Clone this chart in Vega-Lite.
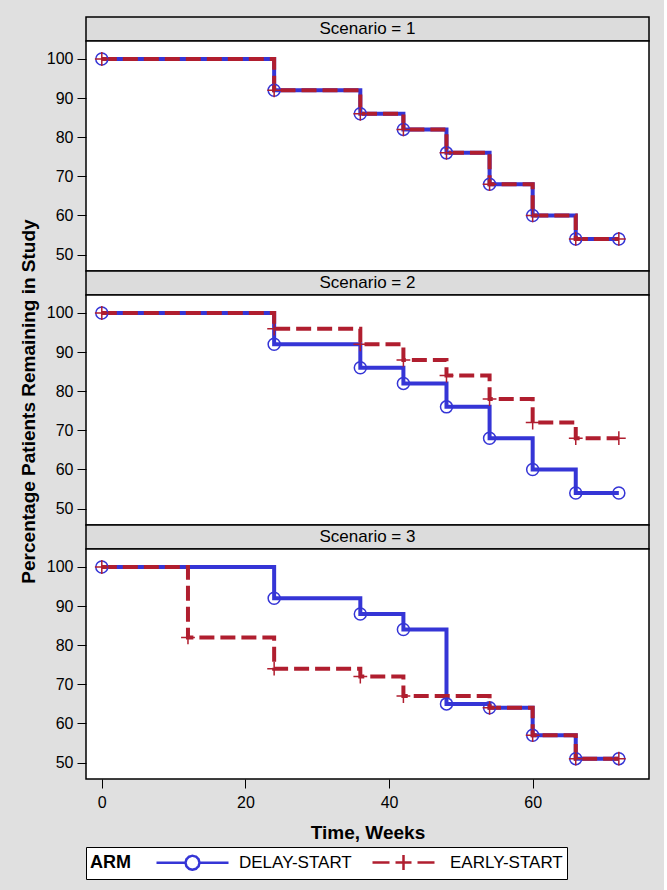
{
  "$schema": "https://vega.github.io/schema/vega-lite/v6.json",
  "background": "#e0e0e0",
  "padding": {"left": 18, "top": 16, "right": 14, "bottom": 10},
  "config": {
    "font": "Liberation Sans",
    "view": {"stroke": "#000", "strokeWidth": 1.5, "fill": "#ffffff"},
    "concat": {"spacing": 0},
    "axis": {
      "labelFontSize": 16, "labelColor": "#000", "tickColor": "#000", "domainColor": "#000",
      "grid": false, "titleFontSize": 19, "titleFontWeight": "bold", "titleColor": "#000",
      "tickSize": 9, "labelPadding": 4, "domain": false
    }
  },
  "datasets": {
    "km": [
      {"scenario": 1, "arm": "DELAY-START", "week": 0, "pct": 100},
      {"scenario": 1, "arm": "DELAY-START", "week": 24, "pct": 92},
      {"scenario": 1, "arm": "DELAY-START", "week": 36, "pct": 86},
      {"scenario": 1, "arm": "DELAY-START", "week": 42, "pct": 82},
      {"scenario": 1, "arm": "DELAY-START", "week": 48, "pct": 76},
      {"scenario": 1, "arm": "DELAY-START", "week": 54, "pct": 68},
      {"scenario": 1, "arm": "DELAY-START", "week": 60, "pct": 60},
      {"scenario": 1, "arm": "DELAY-START", "week": 66, "pct": 54},
      {"scenario": 1, "arm": "DELAY-START", "week": 72, "pct": 54},
      {"scenario": 1, "arm": "EARLY-START", "week": 0, "pct": 100},
      {"scenario": 1, "arm": "EARLY-START", "week": 24, "pct": 92},
      {"scenario": 1, "arm": "EARLY-START", "week": 36, "pct": 86},
      {"scenario": 1, "arm": "EARLY-START", "week": 42, "pct": 82},
      {"scenario": 1, "arm": "EARLY-START", "week": 48, "pct": 76},
      {"scenario": 1, "arm": "EARLY-START", "week": 54, "pct": 68},
      {"scenario": 1, "arm": "EARLY-START", "week": 60, "pct": 60},
      {"scenario": 1, "arm": "EARLY-START", "week": 66, "pct": 54},
      {"scenario": 1, "arm": "EARLY-START", "week": 72, "pct": 54},
      {"scenario": 2, "arm": "DELAY-START", "week": 0, "pct": 100},
      {"scenario": 2, "arm": "DELAY-START", "week": 24, "pct": 92},
      {"scenario": 2, "arm": "DELAY-START", "week": 36, "pct": 86},
      {"scenario": 2, "arm": "DELAY-START", "week": 42, "pct": 82},
      {"scenario": 2, "arm": "DELAY-START", "week": 48, "pct": 76},
      {"scenario": 2, "arm": "DELAY-START", "week": 54, "pct": 68},
      {"scenario": 2, "arm": "DELAY-START", "week": 60, "pct": 60},
      {"scenario": 2, "arm": "DELAY-START", "week": 66, "pct": 54},
      {"scenario": 2, "arm": "DELAY-START", "week": 72, "pct": 54},
      {"scenario": 2, "arm": "EARLY-START", "week": 0, "pct": 100},
      {"scenario": 2, "arm": "EARLY-START", "week": 24, "pct": 96},
      {"scenario": 2, "arm": "EARLY-START", "week": 36, "pct": 92},
      {"scenario": 2, "arm": "EARLY-START", "week": 42, "pct": 88},
      {"scenario": 2, "arm": "EARLY-START", "week": 48, "pct": 84},
      {"scenario": 2, "arm": "EARLY-START", "week": 54, "pct": 78},
      {"scenario": 2, "arm": "EARLY-START", "week": 60, "pct": 72},
      {"scenario": 2, "arm": "EARLY-START", "week": 66, "pct": 68},
      {"scenario": 2, "arm": "EARLY-START", "week": 72, "pct": 68},
      {"scenario": 3, "arm": "DELAY-START", "week": 0, "pct": 100},
      {"scenario": 3, "arm": "DELAY-START", "week": 24, "pct": 92},
      {"scenario": 3, "arm": "DELAY-START", "week": 36, "pct": 88},
      {"scenario": 3, "arm": "DELAY-START", "week": 42, "pct": 84},
      {"scenario": 3, "arm": "DELAY-START", "week": 48, "pct": 65},
      {"scenario": 3, "arm": "DELAY-START", "week": 54, "pct": 64},
      {"scenario": 3, "arm": "DELAY-START", "week": 60, "pct": 57},
      {"scenario": 3, "arm": "DELAY-START", "week": 66, "pct": 51},
      {"scenario": 3, "arm": "DELAY-START", "week": 72, "pct": 51},
      {"scenario": 3, "arm": "EARLY-START", "week": 0, "pct": 100},
      {"scenario": 3, "arm": "EARLY-START", "week": 12, "pct": 82},
      {"scenario": 3, "arm": "EARLY-START", "week": 24, "pct": 74},
      {"scenario": 3, "arm": "EARLY-START", "week": 36, "pct": 72},
      {"scenario": 3, "arm": "EARLY-START", "week": 42, "pct": 67},
      {"scenario": 3, "arm": "EARLY-START", "week": 54, "pct": 64},
      {"scenario": 3, "arm": "EARLY-START", "week": 60, "pct": 57},
      {"scenario": 3, "arm": "EARLY-START", "week": 66, "pct": 51},
      {"scenario": 3, "arm": "EARLY-START", "week": 72, "pct": 51}
    ],
    "strips": [
      {"scenario": 1, "label": "Scenario = 1"},
      {"scenario": 2, "label": "Scenario = 2"},
      {"scenario": 3, "label": "Scenario = 3"}
    ]
  },
  "bounds": "flush",
  "resolve": {"scale": {"color": "shared"}},
  "vconcat": [
    {
      "width": 563, "height": 24,
      "view": {"fill": "#dcdcdc", "stroke": "#000", "strokeWidth": 1.5},
      "data": {"name": "strips"},
      "transform": [{"filter": "datum.scenario === 1"}],
      "mark": {"type": "text", "fontSize": 17, "color": "#000"},
      "encoding": {"text": {"field": "label", "type": "nominal"}}
    },
    {
      "width": 563, "height": 230,
      "data": {"name": "km"},
      "transform": [{"filter": "datum.scenario === 1"}],
      "encoding": {
        "x": {"field": "week", "type": "quantitative", "scale": {"domain": [-2.2, 76.2], "nice": false, "zero": false}, "axis": null},
        "y": {"field": "pct", "type": "quantitative", "scale": {"domain": [45.8, 104.6], "nice": false, "zero": false}, "axis": {"values": [50, 60, 70, 80, 90, 100], "title": null}},
        "color": {"field": "arm", "type": "nominal", "scale": {"domain": ["DELAY-START", "EARLY-START"], "range": ["#3535d6", "#b01e2f"]},
          "legend": {"title": "ARM", "orient": "bottom", "direction": "horizontal", "titleOrient": "left", "titleAnchor": "middle", "titleBaseline": "middle", "titleFontSize": 18, "titleFontWeight": "bold", "titleColor": "#000", "labelFontSize": 17, "labelColor": "#000", "symbolSize": 400, "symbolStrokeWidth": 2.5, "strokeColor": "#000", "fillColor": "#fff", "padding": 4, "titlePadding": 24, "labelOffset": 61, "columnPadding": 14, "offset": 4,
            "encode": {"symbols": {"update": {"shape": {"signal": "datum.value === 'DELAY-START' ? 'M-1,0H1.9M3.3,0H6.2M3.3,0L3.206,0.35L2.95,0.606L2.6,0.7L2.25,0.606L1.994,0.35L1.9,0L1.994,-0.35L2.25,-0.606L2.6,-0.7L2.95,-0.606L3.206,-0.35Z' : 'M-0.5,0H1.2M1.8,0H3.4M4.0,0H5.7M2.6,-0.75V0.75'"}, "fill": {"value": "transparent"}, "strokeDash": {"value": [1, 0]}}}}}}
      },
      "layer": [
        {"transform": [{"filter": "datum.arm === 'DELAY-START'"}], "mark": {"type": "line", "interpolate": "step-after", "strokeWidth": 4}},
        {"transform": [{"filter": "datum.arm === 'EARLY-START'"}], "mark": {"type": "line", "interpolate": "step-after", "strokeWidth": 4, "strokeDash": [15, 6]}},
        {"transform": [{"filter": "datum.arm === 'DELAY-START'"}], "mark": {"type": "point", "shape": "circle", "filled": false, "strokeWidth": 1.5, "size": 144, "opacity": 1}},
        {"transform": [{"filter": "datum.arm === 'EARLY-START'"}], "mark": {"type": "point", "shape": "M-1.15,0H1.15M0,-1.15V1.15", "filled": false, "strokeWidth": 1.5, "size": 144, "opacity": 1}}
      ]
    },
    {
      "width": 563, "height": 24,
      "view": {"fill": "#dcdcdc", "stroke": "#000", "strokeWidth": 1.5},
      "data": {"name": "strips"},
      "transform": [{"filter": "datum.scenario === 2"}],
      "mark": {"type": "text", "fontSize": 17, "color": "#000"},
      "encoding": {"text": {"field": "label", "type": "nominal"}}
    },
    {
      "width": 563, "height": 230,
      "data": {"name": "km"},
      "transform": [{"filter": "datum.scenario === 2"}],
      "encoding": {
        "x": {"field": "week", "type": "quantitative", "scale": {"domain": [-2.2, 76.2], "nice": false, "zero": false}, "axis": null},
        "y": {"field": "pct", "type": "quantitative", "scale": {"domain": [45.8, 104.6], "nice": false, "zero": false}, "axis": {"values": [50, 60, 70, 80, 90, 100], "title": "Percentage Patients Remaining in Study", "titlePadding": 8, "titleY": 106}},
        "color": {"field": "arm", "type": "nominal", "scale": {"domain": ["DELAY-START", "EARLY-START"], "range": ["#3535d6", "#b01e2f"]}}
      },
      "layer": [
        {"transform": [{"filter": "datum.arm === 'DELAY-START'"}], "mark": {"type": "line", "interpolate": "step-after", "strokeWidth": 4}},
        {"transform": [{"filter": "datum.arm === 'EARLY-START'"}], "mark": {"type": "line", "interpolate": "step-after", "strokeWidth": 4, "strokeDash": [15, 6]}},
        {"transform": [{"filter": "datum.arm === 'DELAY-START'"}], "mark": {"type": "point", "shape": "circle", "filled": false, "strokeWidth": 1.5, "size": 144, "opacity": 1}},
        {"transform": [{"filter": "datum.arm === 'EARLY-START'"}], "mark": {"type": "point", "shape": "M-1.15,0H1.15M0,-1.15V1.15", "filled": false, "strokeWidth": 1.5, "size": 144, "opacity": 1}}
      ]
    },
    {
      "width": 563, "height": 24,
      "view": {"fill": "#dcdcdc", "stroke": "#000", "strokeWidth": 1.5},
      "data": {"name": "strips"},
      "transform": [{"filter": "datum.scenario === 3"}],
      "mark": {"type": "text", "fontSize": 17, "color": "#000"},
      "encoding": {"text": {"field": "label", "type": "nominal"}}
    },
    {
      "width": 563, "height": 230,
      "data": {"name": "km"},
      "transform": [{"filter": "datum.scenario === 3"}],
      "encoding": {
        "x": {"field": "week", "type": "quantitative", "scale": {"domain": [-2.2, 76.2], "nice": false, "zero": false}, "axis": {"values": [0, 20, 40, 60], "title": "Time, Weeks", "labelPadding": 6, "titlePadding": 13}},
        "y": {"field": "pct", "type": "quantitative", "scale": {"domain": [45.8, 104.6], "nice": false, "zero": false}, "axis": {"values": [50, 60, 70, 80, 90, 100], "title": null}},
        "color": {"field": "arm", "type": "nominal", "scale": {"domain": ["DELAY-START", "EARLY-START"], "range": ["#3535d6", "#b01e2f"]}}
      },
      "layer": [
        {"transform": [{"filter": "datum.arm === 'DELAY-START'"}], "mark": {"type": "line", "interpolate": "step-after", "strokeWidth": 4}},
        {"transform": [{"filter": "datum.arm === 'EARLY-START'"}], "mark": {"type": "line", "interpolate": "step-after", "strokeWidth": 4, "strokeDash": [15, 6]}},
        {"transform": [{"filter": "datum.arm === 'DELAY-START'"}], "mark": {"type": "point", "shape": "circle", "filled": false, "strokeWidth": 1.5, "size": 144, "opacity": 1}},
        {"transform": [{"filter": "datum.arm === 'EARLY-START'"}], "mark": {"type": "point", "shape": "M-1.15,0H1.15M0,-1.15V1.15", "filled": false, "strokeWidth": 1.5, "size": 144, "opacity": 1}}
      ]
    }
  ]
}
